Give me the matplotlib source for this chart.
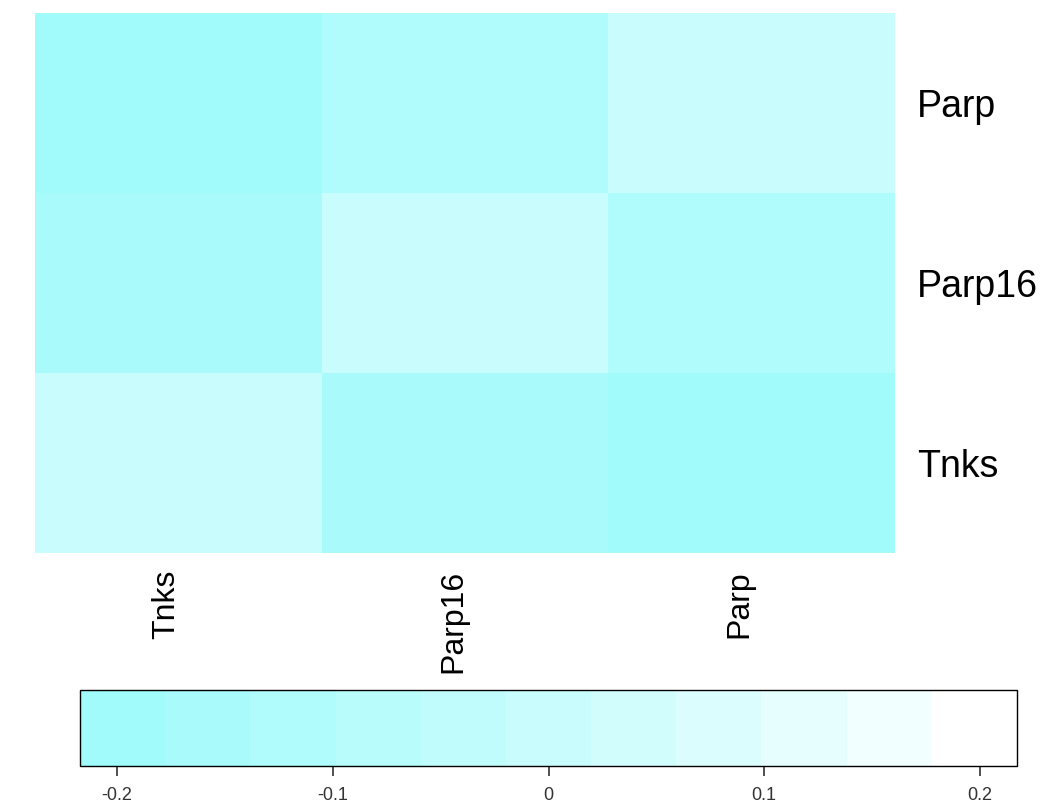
import numpy as np
import matplotlib
matplotlib.use("Agg")
import matplotlib.pyplot as plt
from matplotlib.colors import ListedColormap, BoundaryNorm
from matplotlib.cm import ScalarMappable
from matplotlib.transforms import ScaledTranslation, blended_transform_factory

plt.rcParams["font.family"] = ["Liberation Sans", "DejaVu Sans"]

# genes in column order (left->right) and row order (bottom->top)
genes = ["Tnks", "Parp16", "Parp"]
# correlation values, row i / column j in genes order
row_tnks = [0.00, -0.16, -0.20]
row_parp16 = [-0.16, 0.00, -0.12]
row_parp = [-0.20, -0.12, 0.00]

# colour key: 11 bins from cyan-ish to white
bin_colors = ["#a1fbfb", "#a9fbfb", "#b0fbfb", "#b8fcfc", "#c0fcfc", "#c9fcfc",
              "#d1fdfd", "#dcfdfd", "#e6fefe", "#f1ffff", "#ffffff"]
key_lim = 0.2172
key_ticks = [-0.2, -0.1, 0, 0.1, 0.2]
key_ticklabels = ["-0.2", "-0.1", "0", "0.1", "0.2"]

mat = np.array([row_tnks, row_parp16, row_parp])
bounds = np.linspace(-key_lim, key_lim, len(bin_colors) + 1)
cmap = ListedColormap(bin_colors)
norm = BoundaryNorm(bounds, cmap.N)

fig = plt.figure(figsize=(10.54, 8.11), dpi=100)

ax = fig.add_axes([35 / 1054, 1 - 553 / 811, 860 / 1054, 540 / 811])
ax.pcolormesh(np.arange(4), np.arange(4), mat, cmap=cmap, norm=norm)
ax.set_xlim(0, 3); ax.set_ylim(0, 3)
for s in ax.spines.values():
    s.set_visible(False)
# column labels: rotated, top-anchored just under the grid, nudged left like R
ax.set_xticks([])
trans = blended_transform_factory(ax.transData, ax.transAxes) + \
    ScaledTranslation(-12 / 100, -17 / 100, fig.dpi_scale_trans)
for i, g in enumerate(genes):
    ax.text(i + 0.5, 0, g, transform=trans, rotation=90, fontsize=23,
            ha="center", va="top")
ax.set_yticks(np.arange(3) + 0.5)
ax.set_yticklabels(genes, fontsize=27)
ax.yaxis.tick_right()
ax.tick_params(axis="both", length=0)
ax.tick_params(axis="y", pad=16)

cax = fig.add_axes([80 / 1054, 1 - 766 / 811, 937 / 1054, 76 / 811])
sm = ScalarMappable(norm=norm, cmap=cmap)
cb = fig.colorbar(sm, cax=cax, orientation="horizontal", ticks=key_ticks)
cb.set_ticklabels(key_ticklabels)
cax.minorticks_off()
cb.outline.set_linewidth(1.0)
cb.outline.set_edgecolor("black")
cax.tick_params(axis="x", which="minor", length=0)
cax.tick_params(axis="x", length=7, width=1.2, labelsize=13, pad=8,
                color="#333333", labelcolor="#333333")

fig.savefig("out.png", dpi=100)
